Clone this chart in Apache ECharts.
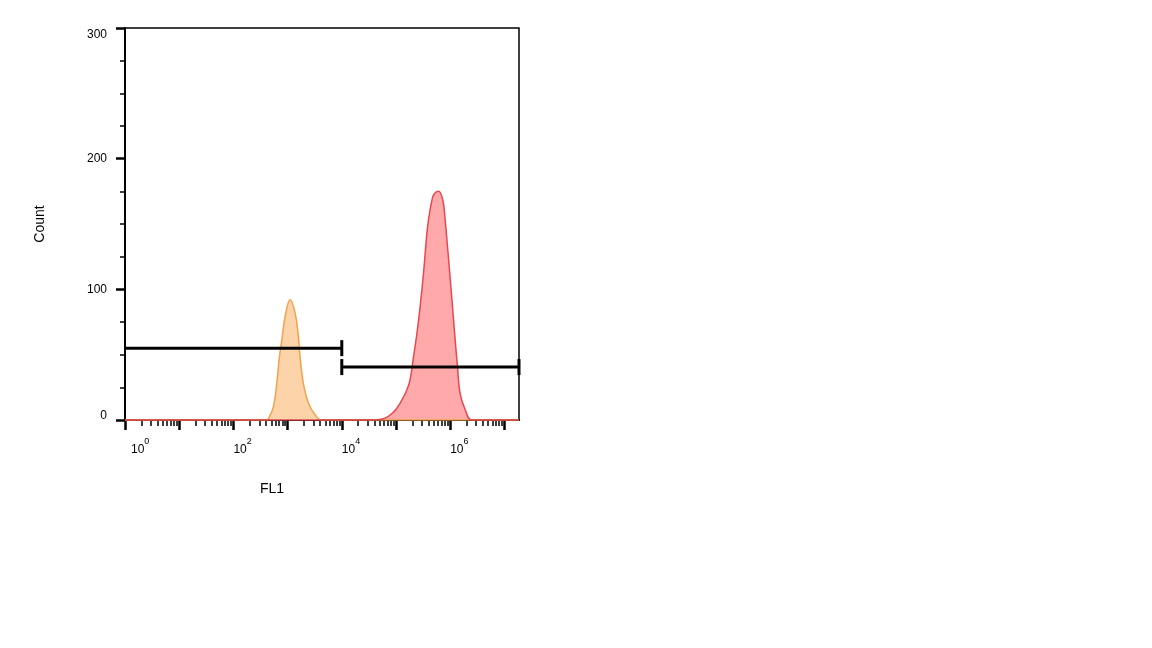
<!DOCTYPE html>
<html>
<head>
<meta charset="utf-8">
<script src="https://cdn.jsdelivr.net/npm/echarts@6/dist/echarts.min.js"></script>
<style>
  html, body { margin: 0; padding: 0; background: #fff; }
  #chart { width: 1152px; height: 648px; }
</style>
</head>
<body>
<div id="chart"></div>
<script>
// FL1 intensity (linear units) and event count
const negFl1 = [1, 413, 442, 547, 631, 705, 782, 899, 1112, 1374, 1581, 1702, 1954, 2421, 3221, 4276, 18600000];
const negCount = [0, 0, 1, 10, 28, 48, 61, 79, 92, 82, 64, 48, 28, 13, 4, 0, 0];

const posFl1 = [1, 33300, 58600, 89700, 119400, 158500, 182400, 209900, 242700, 279300, 321400, 371500, 397200,
  459200, 505800, 608100, 732800, 807200, 891300, 1030000, 1183000, 1361000, 1528000, 1888000, 2512000, 18600000];
const posCount = [0, 0, 1, 6, 13, 23, 31, 48, 66, 87, 112, 143, 153, 168, 173, 175, 168, 153, 133, 102, 71, 41, 20, 8, 0, 0];

// marker gates: [from, to] on FL1 and the count level they sit at
const gateLow = [1, 10000];
const gateLowLevel = 55;
const gateHigh = [10000, 18600000];
const gateHighLevel = 40.5;

// axes
const fl1Range = [1, 18600000];
const labelDecades = [0, 2, 4, 6];
const majorDecades = [0, 1, 2, 3, 4, 5, 6, 7];
const countTicks = [0, 100, 200, 300];

const lg = (v) => Math.log10(v);
const toPts = (xs, ys) => xs.map((x, i) => [lg(x), ys[i]]);

const minorDecades = [];
for (let d = 0; d <= 7; d++) {
  for (let k = 2; k <= 9; k++) {
    const v = lg(k * Math.pow(10, d));
    if (v <= lg(fl1Range[1])) minorDecades.push(v);
  }
}

const cap = { symbol: 'rect', symbolSize: [3, 16] };
const gateStyle = { color: '#000', width: 3 };

const chart = echarts.init(document.getElementById('chart'));
chart.setOption({
  animation: false,
  backgroundColor: '#fff',
  textStyle: { fontFamily: 'Liberation Sans, Arial, sans-serif', color: '#000' },
  grid: { left: 125, right: 633, top: 28, bottom: 228, show: true, borderColor: '#000', borderWidth: 1.5 },
  xAxis: [
    {
      type: 'value',
      position: 'bottom',
      min: lg(fl1Range[0]),
      max: lg(fl1Range[1]),
      name: 'FL1',
      nameLocation: 'middle',
      nameGap: 62,
      nameTextStyle: { fontSize: 14, color: '#000', padding: [0, 100, 0, 0] },
      axisLine: { lineStyle: { color: '#000', width: 2 } },
      axisTick: { length: 10, lineStyle: { color: '#000', width: 2.5 }, customValues: majorDecades },
      splitLine: { show: false },
      axisLabel: {
        customValues: labelDecades,
        align: 'left',
        margin: 17,
        color: '#000',
        formatter: (v) => {
          const k = Math.round(v);
          return (k === 0 ? '{b0|10}' : '{b|10}') + '{s|' + k + '}';
        },
        rich: {
          b: { fontSize: 12, color: '#000', verticalAlign: 'bottom', lineHeight: 19 },
          b0: { fontSize: 12, color: '#000', verticalAlign: 'bottom', lineHeight: 19, padding: [0, 0, 0, 6] },
          s: { fontSize: 9, color: '#000', verticalAlign: 'top', lineHeight: 10 },
        },
      },
    },
    {
      type: 'value',
      position: 'bottom',
      min: lg(fl1Range[0]),
      max: lg(fl1Range[1]),
      axisLine: { show: false },
      axisTick: { length: 6, lineStyle: { color: '#000', width: 1.5 }, customValues: minorDecades },
      axisLabel: { show: false },
      splitLine: { show: false },
    },
  ],
  yAxis: {
    type: 'value',
    min: countTicks[0],
    max: countTicks[countTicks.length - 1],
    interval: 100,
    name: 'Count',
    nameLocation: 'middle',
    nameGap: 78,
    nameTextStyle: { fontSize: 14, color: '#000' },
    axisLine: { show: true, lineStyle: { color: '#000', width: 2 } },
    axisTick: { length: 9, lineStyle: { color: '#000', width: 2.5 } },
    minorTick: { show: true, splitNumber: 4, length: 5, lineStyle: { color: '#000', width: 1.5 } },
    splitLine: { show: false },
    axisLabel: {
      margin: 18,
      fontSize: 12,
      color: '#000',
      formatter: (v) => (v === 300 ? '{lo|300}' : v === 0 ? '{hi|0}' : String(v)),
      rich: {
        lo: { fontSize: 12, color: '#000', padding: [14, 0, 0, 0] },
        hi: { fontSize: 12, color: '#000', padding: [0, 0, 8, 0] },
      },
    },
  },
  series: [
    {
      name: 'negative',
      type: 'line',
      smooth: 0.4,
      showSymbol: false,
      data: toPts(negFl1, negCount),
      lineStyle: { color: '#F2A24A', width: 1.5 },
      areaStyle: { color: '#FDD3A9', opacity: 1 },
      z: 2,
    },
    {
      name: 'positive',
      type: 'line',
      smooth: 0.4,
      showSymbol: false,
      data: toPts(posFl1, posCount),
      lineStyle: { color: '#E8474F', width: 1.5 },
      areaStyle: { color: '#FFA9AA', opacity: 1 },
      z: 2,
    },
    {
      name: 'gate-low',
      type: 'line',
      data: [
        { value: [lg(gateLow[0]), gateLowLevel], symbol: 'none' },
        { value: [lg(gateLow[1]), gateLowLevel], ...cap },
      ],
      lineStyle: gateStyle,
      itemStyle: { color: '#000' },
      z: 5,
    },
    {
      name: 'gate-high',
      type: 'line',
      data: [
        { value: [lg(gateHigh[0]), gateHighLevel], ...cap },
        { value: [lg(gateHigh[1]), gateHighLevel], ...cap },
      ],
      lineStyle: gateStyle,
      itemStyle: { color: '#000' },
      z: 5,
    },
  ],
});
</script>
</body>
</html>
